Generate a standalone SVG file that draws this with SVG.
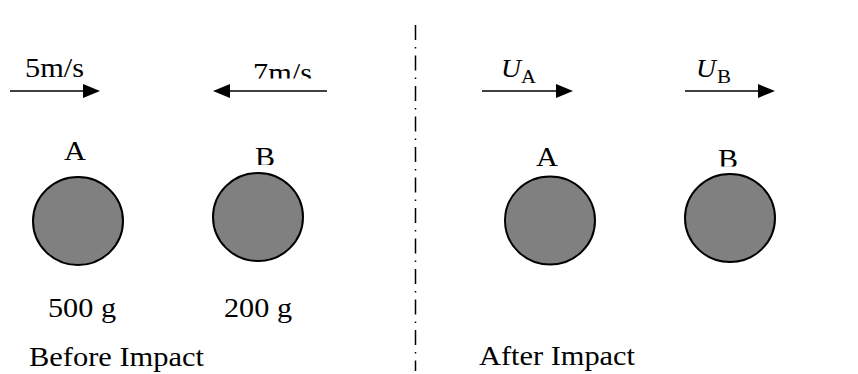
<svg xmlns="http://www.w3.org/2000/svg" width="858" height="374" viewBox="0 0 858 374">
<style>
.t{font-family:"Liberation Serif","Times New Roman",serif;font-size:28px;fill:#000}
.ti{font-family:"Liberation Serif","Times New Roman",serif;font-style:italic;font-size:26px;fill:#000}
.ts{font-family:"Liberation Serif","Times New Roman",serif;font-size:19px;fill:#000}
.ball{fill:#808080;stroke:#000;stroke-width:2}
.arr{stroke:#000;stroke-width:1.6;fill:none}
.ah{fill:#000}
</style>
<defs>
<clipPath id="c7"><rect x="240" y="40" width="100" height="38.5"/></clipPath>
<clipPath id="cb1"><rect x="240" y="130" width="50" height="35"/></clipPath>
<clipPath id="cb2"><rect x="700" y="130" width="50" height="36.5"/></clipPath>
</defs>
<g id="divider">
<line x1="415.5" y1="25" x2="415.5" y2="371" stroke="#000" stroke-width="1.5" stroke-dasharray="15 7 1.5 7"/>
</g>
<g id="connectors">
<line class="arr" x1="10" y1="91" x2="86" y2="91"/>
<polygon class="ah" points="100,91 83,84 83,98"/>
<line class="arr" x1="327" y1="91" x2="227" y2="91"/>
<polygon class="ah" points="213,91 230,84 230,98"/>
<line class="arr" x1="482" y1="91" x2="558" y2="91"/>
<polygon class="ah" points="573,91 556,84 556,98"/>
<line class="arr" x1="685" y1="91" x2="760" y2="91"/>
<polygon class="ah" points="775,91 758,84 758,98"/>
</g>
<g id="labels-velocity">
<text class="t" x="25" y="77" textLength="59" lengthAdjust="spacingAndGlyphs">5m/s</text>
<g clip-path="url(#c7)"><text class="t" x="253" y="82" textLength="59" lengthAdjust="spacingAndGlyphs">7m/s</text></g>
<text x="501" y="77"><tspan class="ti" textLength="20" lengthAdjust="spacingAndGlyphs">U</tspan><tspan class="ts" x="521" y="83" textLength="15" lengthAdjust="spacingAndGlyphs">A</tspan></text>
<text x="696" y="77"><tspan class="ti" textLength="20" lengthAdjust="spacingAndGlyphs">U</tspan><tspan class="ts" x="717" y="83" textLength="14" lengthAdjust="spacingAndGlyphs">B</tspan></text>
</g>
<g id="ballA-before">
<text class="t" x="64" y="160" textLength="22" lengthAdjust="spacingAndGlyphs">A</text>
<ellipse class="ball" cx="78" cy="221" rx="45" ry="44"/>
<text class="t" x="48" y="317" textLength="68" lengthAdjust="spacingAndGlyphs">500 g</text>
</g>
<g id="ballB-before">
<g clip-path="url(#cb1)"><text class="t" x="255" y="166" textLength="20" lengthAdjust="spacingAndGlyphs">B</text></g>
<ellipse class="ball" cx="258" cy="217" rx="45" ry="44"/>
<text class="t" x="224" y="317" textLength="68" lengthAdjust="spacingAndGlyphs">200 g</text>
</g>
<g id="ballA-after">
<text class="t" x="536" y="166" textLength="22" lengthAdjust="spacingAndGlyphs">A</text>
<ellipse class="ball" cx="550" cy="220.5" rx="45" ry="44"/>
</g>
<g id="ballB-after">
<g clip-path="url(#cb2)"><text class="t" x="718" y="168" textLength="20" lengthAdjust="spacingAndGlyphs">B</text></g>
<ellipse class="ball" cx="730" cy="218" rx="45" ry="44"/>
</g>
<g id="captions">
<text class="t" x="29" y="366" textLength="175" lengthAdjust="spacingAndGlyphs">Before Impact</text>
<text class="t" x="479" y="365" textLength="156" lengthAdjust="spacingAndGlyphs">After Impact</text>
</g>
</svg>
